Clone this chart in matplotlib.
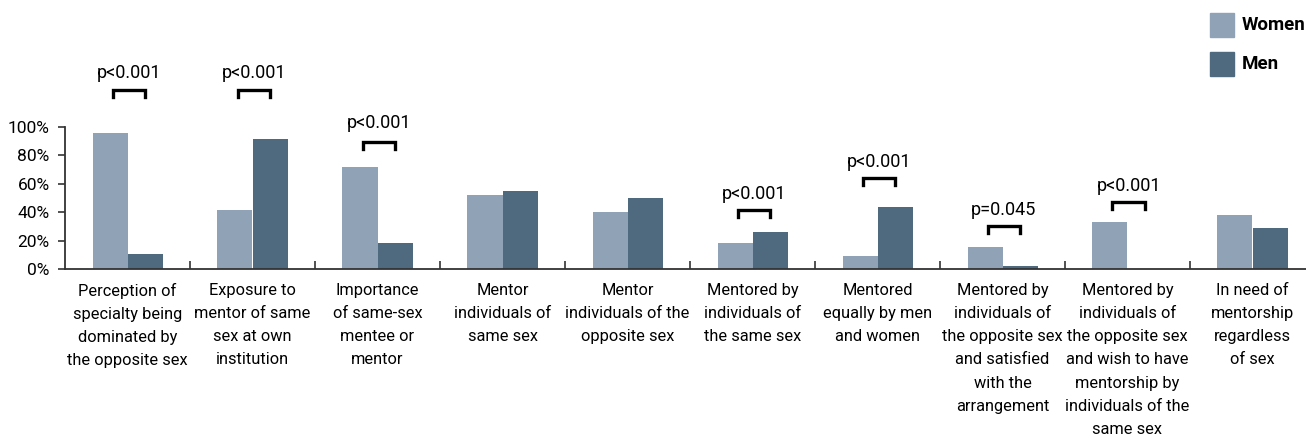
import matplotlib
matplotlib.use("Agg")
import matplotlib.pyplot as plt
from matplotlib.patches import Rectangle
import numpy as np

plt.rcParams["font.family"] = ["Roboto", "DejaVu Sans"]

# --- data -------------------------------------------------------------------
categories = [
    "Perception of\nspecialty being\ndominated by\nthe opposite sex",
    "Exposure to\nmentor of same\nsex at own\ninstitution",
    "Importance\nof same-sex\nmentee or\nmentor",
    "Mentor\nindividuals of\nsame sex",
    "Mentor\nindividuals of the\nopposite sex",
    "Mentored by\nindividuals of\nthe same sex",
    "Mentored\nequally by men\nand women",
    "Mentored by\nindividuals of\nthe opposite sex\nand satisfied\nwith the\narrangement",
    "Mentored by\nindividuals of\nthe opposite sex\nand wish to have\nmentorship by\nindividuals of the\nsame sex",
    "In need of\nmentorship\nregardless\nof sex",
]
women = [95.6, 41.5, 71.7, 52.0, 40.0, 18.3, 9.1, 15.5, 33.0, 38.0]
men = [10.5, 91.4, 18.3, 54.8, 49.9, 26.0, 43.6, 2.0, 0.0, 28.8]

# significance brackets: group index, label, bracket height (%), label height (%)
sig_groups = [0, 1, 2, 5, 6, 7, 8]
sig_labels = ["p<0.001", "p<0.001", "p<0.001", "p<0.001", "p<0.001", "p=0.045", "p<0.001"]
sig_bracket_y = [125.8, 125.8, 89.0, 41.5, 64.0, 30.2, 47.0]
sig_text_y = [137.5, 137.5, 102.5, 52.5, 75.0, 41.5, 58.3]

WOMEN_C = "#8FA2B6"
MEN_C = "#4F6A7E"
AXIS_C = "#333333"

W, H = 1306, 440
fig = plt.figure(figsize=(W / 100, H / 100), dpi=100)
# axes spans 65..1315 px horizontally, 0% at y=269, 100% at y=126.7
ax = fig.add_axes([65 / W, (H - 269) / H, 1250 / W, (269 - 126.7) / H])

n = len(categories)
centers = np.arange(n) + 0.5
bw = 0.28
ax.bar(centers - bw / 2, women, bw, color=WOMEN_C, label="Women")
ax.bar(centers + bw / 2, men, bw, color=MEN_C, label="Men")

ax.set_xlim(0, n)
ax.set_ylim(0, 100)
ax.set_yticks(np.arange(0, 101, 20))
ax.set_yticklabels([f"{v}%" for v in range(0, 101, 20)], fontsize=12.5)
ax.set_xticks(centers)
ax.set_xticklabels(categories, fontsize=11.8, linespacing=1.68, va="top")
ax.set_xticks(np.arange(1, n + 1), minor=True)
ax.tick_params(axis="x", which="major", length=0, pad=10)
ax.tick_params(axis="x", which="minor", direction="in", length=6, color=AXIS_C, width=1.2)
ax.tick_params(axis="y", direction="out", length=5, color=AXIS_C, width=1.2, pad=6)

for s in ("top", "right"):
    ax.spines[s].set_visible(False)
for s in ("left", "bottom"):
    ax.spines[s].set_color(AXIS_C)
    ax.spines[s].set_linewidth(1.3)

# significance brackets
leg = 5.0
for g, lab, by, ty in zip(sig_groups, sig_labels, sig_bracket_y, sig_text_y):
    x0 = centers[g] - bw / 2 + 0.02
    x1 = centers[g] + bw / 2
    ax.plot([x0, x0, x1, x1], [by - leg, by, by, by - leg], color="black",
            lw=2.4, solid_joinstyle="miter", clip_on=False)
    ax.text((x0 + x1) / 2, ty, lab, ha="center", va="center", fontsize=13, clip_on=False)

# legend (manual, figure pixels)
for i, (lab, col) in enumerate([("Women", WOMEN_C), ("Men", MEN_C)]):
    y_top = 13 + 39 * i
    fig.patches.append(Rectangle((1210 / W, (H - y_top - 24) / H), 24 / W, 24 / H,
                                 transform=fig.transFigure, color=col))
    fig.text(1242 / W, (H - y_top - 12) / H, lab, fontsize=13.5, fontweight="bold",
             va="center", ha="left")

fig.savefig("out.png", dpi=100)
